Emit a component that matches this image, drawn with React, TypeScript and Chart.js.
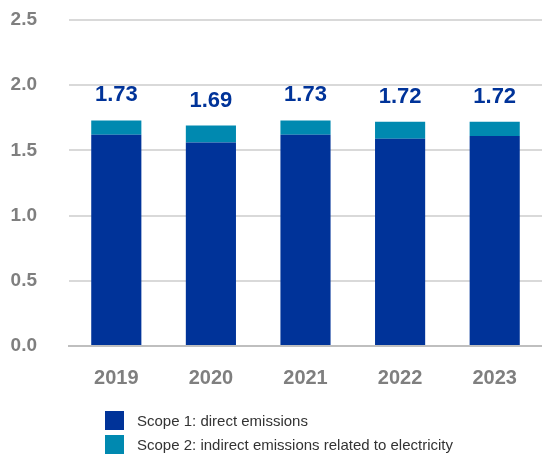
import React, { useEffect, useRef } from "react";
import { Chart, registerables } from "chart.js";

Chart.register(...registerables);

const years = ["2019", "2020", "2021", "2022", "2023"];
const scope1 = [1.62, 1.56, 1.62, 1.59, 1.61];
const scope2 = [0.11, 0.13, 0.11, 0.13, 0.11];
const yTicks = [0, 0.5, 1.0, 1.5, 2.0, 2.5];
const legendLabels = [
  "Scope 1: direct emissions",
  "Scope 2: indirect emissions related to electricity",
];
const colors = ["#003399", "#0089B0"];

const FONT = "'Liberation Sans', Arial, sans-serif";

const totalsPlugin = {
  id: "totals",
  afterDatasetsDraw(chart: any) {
    const ctx = chart.ctx;
    const x = chart.scales.x;
    const y = chart.scales.y;
    ctx.save();
    ctx.fillStyle = "#003399";
    ctx.font = `bold 22px ${FONT}`;
    ctx.textAlign = "center";
    ctx.textBaseline = "alphabetic";
    years.forEach((_, i) => {
      const total = scope1[i] + scope2[i];
      const px = x.getPixelForValue(i);
      const py = y.getPixelForValue(total);
      ctx.fillText(total.toFixed(2), px, py - 19);
    });
    ctx.restore();
  },
};

export default function App() {
  const ref = useRef<HTMLCanvasElement>(null);
  useEffect(() => {
    if (!ref.current) return;
    const chart = new Chart(ref.current, {
      type: "bar",
      data: {
        labels: years,
        datasets: [
          { label: legendLabels[0], data: scope1, backgroundColor: colors[0], barPercentage: 0.53, categoryPercentage: 1 },
          { label: legendLabels[1], data: scope2, backgroundColor: colors[1], barPercentage: 0.53, categoryPercentage: 1 },
        ],
      },
      options: {
        animation: false,
        responsive: false,
        devicePixelRatio: 1,
        layout: { padding: { top: 20, right: 0, bottom: 60, left: 0 } },
        plugins: { legend: { display: false }, tooltip: { enabled: false } },
        scales: {
          x: {
            stacked: true,
            grid: { display: false, drawTicks: false },
            border: { color: "#bfbfbf", width: 2 },
            ticks: { color: "#7f7f7f", font: { family: FONT, size: 20, weight: "bold" }, padding: 20 },
            afterFit(s: any) { s.height = 50; s.paddingLeft = 0; s.paddingRight = 0; },
          },
          y: {
            stacked: true,
            min: 0,
            max: 2.5,
            afterBuildTicks(s: any) { s.ticks = yTicks.map((v) => ({ value: v })); },
            grid: { color: "#d9d9d9", lineWidth: 2, drawTicks: false },
            border: { display: false },
            ticks: {
              color: "#7f7f7f",
              font: { family: FONT, size: 19, weight: "bold" },
              padding: 32,
              callback: (v: any) => Number(v).toFixed(1),
            },
            afterFit(s: any) { s.width = 69; s.paddingTop = 0; s.paddingBottom = 0; },
          },
        },
      },
      plugins: [totalsPlugin],
    });
    return () => chart.destroy();
  }, []);

  return (
    <div style={{ position: "absolute", left: 0, top: 0, width: 542, height: 456, background: "#fff" }}>
      <canvas ref={ref} width={542} height={456} style={{ position: "absolute", left: 0, top: 0 }} />
      {legendLabels.map((l, i) => (
        <div
          key={l}
          style={{
            position: "absolute",
            left: 105,
            top: 411 + i * 24,
            height: 19,
            display: "flex",
            alignItems: "center",
            fontFamily: FONT,
            fontSize: 15,
            color: "#333",
            whiteSpace: "nowrap",
          }}
        >
          <span style={{ display: "inline-block", width: 19, height: 19, background: colors[i], marginRight: 13 }} />
          <span>{l}</span>
        </div>
      ))}
    </div>
  );
}
